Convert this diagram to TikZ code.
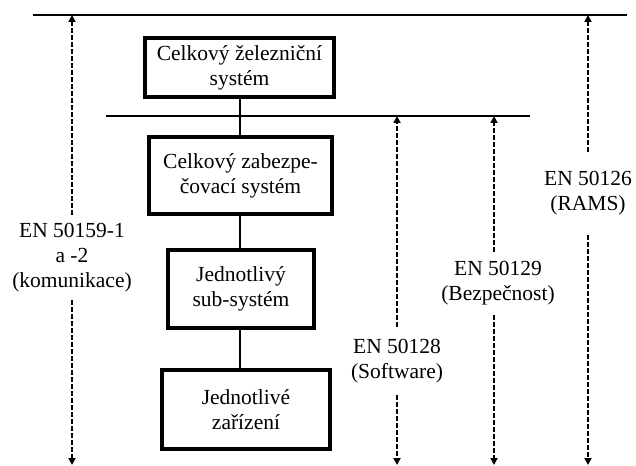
\documentclass[tikz,border=0pt]{standalone}
\usepackage{fontspec}
\setmainfont{Liberation Serif}
\usetikzlibrary{arrows.meta}
\begin{document}
\begin{tikzpicture}[x=1pt,y=-1pt,
  every node/.style={font=\fontsize{21.5}{25}\selectfont, align=center},
  sysbox/.style={draw, line width=3.2pt, inner sep=0pt},
  level/.style={line width=1.7pt},
  link/.style={line width=2.6pt},
  normlabel/.style={inner sep=0pt},
  scope arrow/.style={dashed, dash pattern=on 4.5pt off 2.5pt, line width=2pt,
    -{Triangle[width=7pt,length=7pt]}}]
  \useasboundingbox (0,0) rectangle (636,465);

  % horizontal levels: whole railway system and signalling system
  \coordinate (topL) at (33,15);   \coordinate (topR) at (627,15);
  \coordinate (midL) at (106,116); \coordinate (midR) at (530,116);
  \draw[level] (topL) -- (topR);
  \draw[level] (midL) -- (midR);

  % system hierarchy
  \node[sysbox, minimum width=189pt, minimum height=59pt] (b1) at (239.5,67.5)
    {Celkový železniční\\systém};
  \node[sysbox, minimum width=183pt, minimum height=77pt] (b2) at (240.5,175.5)
    {Celkový zabezpe-\\čovací systém};
  \node[sysbox, minimum width=146pt, minimum height=78pt] (b3) at (241,289)
    {Jednotlivý\\sub-systém};
  \node[sysbox, minimum width=168pt, minimum height=79pt] (b4) at (246,409.5)
    {Jednotlivé\\zařízení};

  \coordinate (spine) at (240,0);
  \draw[link] (b1.south -| spine) -- (b2.north -| spine);
  \draw[link] (b2.south -| spine) -- (b3.north -| spine);
  \draw[link] (b3.south -| spine) -- (b4.north -| spine);

  % standards and their scope
  \node[normlabel, minimum height=85pt] (n159) at (72,257.5)
    {EN 50159-1\\a -2\\(komunikace)};
  \node[normlabel, minimum height=83pt] (n126) at (588,193.5)
    {EN 50126\\(RAMS)};
  \node[normlabel, minimum height=63pt] (n129) at (498,283.5)
    {EN 50129\\(Bezpečnost)};
  \node[normlabel, minimum height=68pt] (n128) at (397,361)
    {EN 50128\\(Software)};

  \coordinate (e159) at (72,465);
  \coordinate (e126) at (588,465);
  \coordinate (e129) at (494,465);
  \coordinate (e128) at (397,465);

  \draw[scope arrow] (n159.north) -- (n159.north |- topL);
  \draw[scope arrow] (n159.south) -- (e159);
  \draw[scope arrow] (n126.north) -- (n126.north |- topL);
  \draw[scope arrow] (n126.south) -- (e126);
  \draw[scope arrow] (n128.north) -- (n128.north |- midL);
  \draw[scope arrow] (n128.south) -- (e128);
  \coordinate (a129) at (494,0);
  \draw[scope arrow] (n129.north -| a129) -- (a129 |- midL);
  \draw[scope arrow] (n129.south -| a129) -- (e129);
\end{tikzpicture}
\end{document}
